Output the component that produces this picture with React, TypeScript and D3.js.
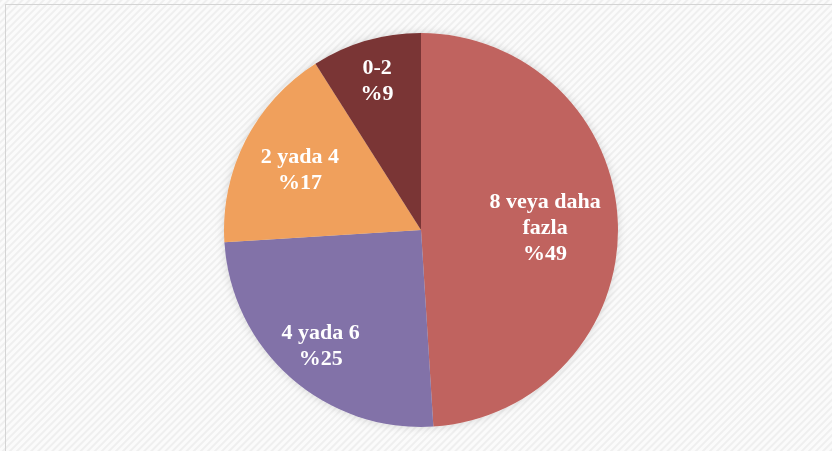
import { useEffect, useRef } from 'react';
import * as d3 from 'd3';

// slices, clockwise from 12 o'clock
const labels = ['8 veya daha fazla', '4 yada 6', '2 yada 4', '0-2'];
const labelLines = [['8 veya daha', 'fazla', '%49'], ['4 yada 6', '%25'], ['2 yada 4', '%17'], ['0-2', '%9']];
const values = [49, 25, 17, 9];
const colors = ['#C0645F', '#8272A8', '#F0A05B', '#7A3535'];

const W = 832;
const H = 451;

const App = () => {
  const ref = useRef<SVGSVGElement>(null);

  useEffect(() => {
    const svg = d3.select(ref.current);
    svg.selectAll('*').remove();

    const defs = svg.append('defs');
    const pat = defs
      .append('pattern')
      .attr('id', 'stripes')
      .attr('width', 5)
      .attr('height', 5)
      .attr('patternUnits', 'userSpaceOnUse')
      .attr('patternTransform', 'rotate(45)');
    pat.append('rect').attr('width', 5).attr('height', 5).attr('fill', '#fbfbfb');
    pat.append('rect').attr('width', 2).attr('height', 5).attr('fill', '#efefef');

    const f = defs.append('filter').attr('id', 'shadow').attr('x', '-20%').attr('y', '-20%').attr('width', '140%').attr('height', '140%');
    f.append('feDropShadow').attr('dx', 0).attr('dy', 0).attr('stdDeviation', 4).attr('flood-color', '#000').attr('flood-opacity', 0.15);

    svg.append('rect').attr('width', W).attr('height', H).attr('fill', 'url(#stripes)');
    svg
      .append('rect')
      .attr('x', 5.5)
      .attr('y', 4.5)
      .attr('width', W + 20)
      .attr('height', H + 20)
      .attr('fill', 'none')
      .attr('stroke', '#d4d4d4');

    const cx = 421;
    const cy = 230;
    const r = 197;

    const pie = d3.pie<number>().sort(null).value((d) => d);
    const arcs = pie(values);
    const arc = d3.arc<d3.PieArcDatum<number>>().innerRadius(0).outerRadius(r);

    const g = svg.append('g').attr('transform', `translate(${cx},${cy})`);
    g.append('g')
      .attr('filter', 'url(#shadow)')
      .selectAll('path')
      .data(arcs)
      .enter()
      .append('path')
      .attr('d', arc)
      .attr('fill', (_, i) => colors[i])
      .append('title')
      .text((_, i) => labels[i]);

    // label distance from centre, as fraction of radius
    const labelR = [0.63, 0.77, 0.69, 0.8];
    const lineH = 26;
    arcs.forEach((a, i) => {
      const mid = (a.startAngle + a.endAngle) / 2;
      const d = labelR[i] * r;
      const x = Math.sin(mid) * d;
      const y = -Math.cos(mid) * d;
      const lines = labelLines[i];
      const t = g
        .append('text')
        .attr('text-anchor', 'middle')
        .attr('font-family', '"Liberation Serif", "Times New Roman", serif')
        .attr('font-weight', 'bold')
        .attr('font-size', 22)
        .attr('fill', '#ffffff');
      lines.forEach((ln, j) => {
        t.append('tspan')
          .attr('x', x)
          .attr('y', y + (j - (lines.length - 1) / 2) * lineH + 8)
          .text(ln);
      });
    });
  }, []);

  return (
    <svg
      ref={ref}
      width={W}
      height={H}
      style={{ position: 'fixed', left: 0, top: 0, display: 'block' }}
    ></svg>
  );
};

export default App;
